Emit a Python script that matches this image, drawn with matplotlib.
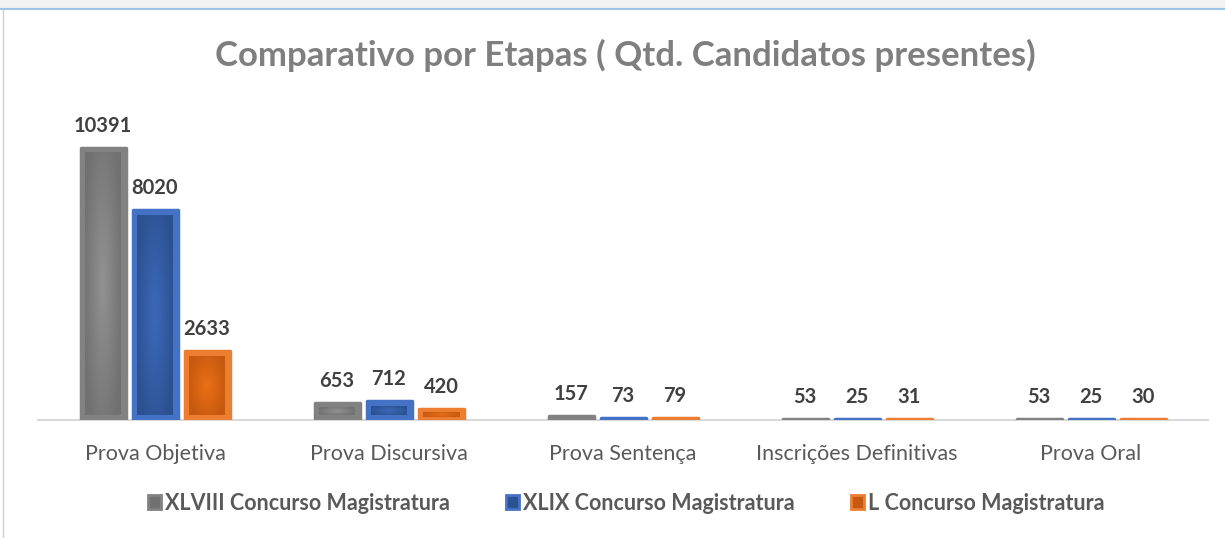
import numpy as np
import matplotlib.pyplot as plt
from matplotlib.patches import Patch, Rectangle
from matplotlib.lines import Line2D
from matplotlib.colors import to_rgb

plt.rcParams["font.family"] = ["Lato", "DejaVu Sans"]

etapas = ["Prova Objetiva", "Prova Discursiva", "Prova Sentença",
          "Inscrições Definitivas", "Prova Oral"]
xlviii = [10391, 653, 157, 53, 53]
xlix = [8020, 712, 73, 25, 25]
l_conc = [2633, 420, 79, 31, 30]

# name, values, border colour, dark shade, light shade
series = [
    ("XLVIII Concurso Magistratura", xlviii, "#828282", "#717171", "#929292"),
    ("XLIX Concurso Magistratura", xlix, "#4472c4", "#2c5190", "#3b69ba"),
    ("L Concurso Magistratura", l_conc, "#ed7d31", "#c4590f", "#ec6f16"),
]

W, H = 1225, 538
fig = plt.figure(figsize=(W / 100, H / 100), dpi=100)
fig.patch.set_facecolor("white")

# window frame from the screenshot
fig.patches.append(Rectangle((0, 1 - 8 / H), 1, 8 / H, transform=fig.transFigure,
                             color="#f2f2f2", zorder=0))
fig.add_artist(Line2D([0, 1], [1 - 9 / H, 1 - 9 / H], transform=fig.transFigure,
                      color="#9dc3e6", lw=1.5))
fig.add_artist(Line2D([3 / W, 3 / W], [0, 1 - 10 / H], transform=fig.transFigure,
                      color="#d0d0d0", lw=1))

ymax = 12000
ax_h = ymax * 272 / 10391
ax = fig.add_axes([38 / W, 118 / H, 1170 / W, ax_h / H])

x = np.arange(len(etapas))
px_y = ymax / ax_h      # data units per pixel
px_x = 1.0 / 234
bw = 45 / 234
step = 52 / 234


def shade(dark, light, nx=40, ny=80):
    # soft radial gradient: lighter centre, darker edges
    d = np.array(to_rgb(dark))
    l = np.array(to_rgb(light))
    gx = np.linspace(-1, 1, nx)
    gy = np.linspace(-1, 1, ny)
    X, Y = np.meshgrid(gx, gy)
    t = np.clip(1 - np.sqrt(X ** 2 * 0.8 + Y ** 2 * 0.6), 0, 1)[..., None]
    return d + (l - d) * t


for i, (name, vals, outer, dark, light) in enumerate(series):
    pos = x + (i - 1) * step
    ax.bar(pos, vals, width=bw, color=outer, edgecolor=outer, linewidth=2.5,
           joinstyle="round", zorder=2)
    img = shade(dark, light)
    for xp, v in zip(pos, vals):
        h_px = v / px_y
        if h_px > 8:
            ins = min(5, h_px * 0.3) * px_y
            x0 = xp - bw / 2 + 4.5 * px_x
            x1 = xp + bw / 2 - 4.5 * px_x
            ax.imshow(img, extent=(x0, x1, ins, v - ins), aspect="auto",
                      origin="lower", zorder=3, interpolation="bilinear")
        ax.annotate(str(v), (xp, v), xytext=(0, 22), textcoords="offset pixels",
                    ha="center", va="center", fontsize=14.5, fontweight="bold",
                    color="#404040")

ax.set_xlim(-0.5, len(etapas) - 0.5)
ax.set_ylim(0, ymax)
for s in ["top", "left", "right"]:
    ax.spines[s].set_visible(False)
ax.spines["bottom"].set_color("#d9d9d9")
ax.spines["bottom"].set_linewidth(1.5)
ax.spines["bottom"].set_zorder(1)
ax.set_yticks([])
ax.set_xticks(x)
ax.set_xticklabels(etapas, fontsize=15.5, color="#595959")
ax.tick_params(axis="x", length=0, pad=17)

fig.text(625 / W, 1 - 55 / H, "Comparativo por Etapas ( Qtd. Candidatos presentes)",
         ha="center", va="center", fontsize=25, fontweight="bold", color="#7f7f7f")

handles = [Patch(facecolor=dark, edgecolor=outer, linewidth=2)
           for _, _, outer, dark, _ in series]
labels = [s[0] for s in series]
fig.legend(handles, labels, loc="center", bbox_to_anchor=(626 / W, 1 - 503 / H),
           ncol=3, frameon=False, handlelength=0.6, handleheight=0.6,
           handletextpad=0.2, columnspacing=2.6,
           prop={"size": 15.5, "weight": "bold"}, labelcolor="#595959")

fig.savefig("out.png", dpi=100)
